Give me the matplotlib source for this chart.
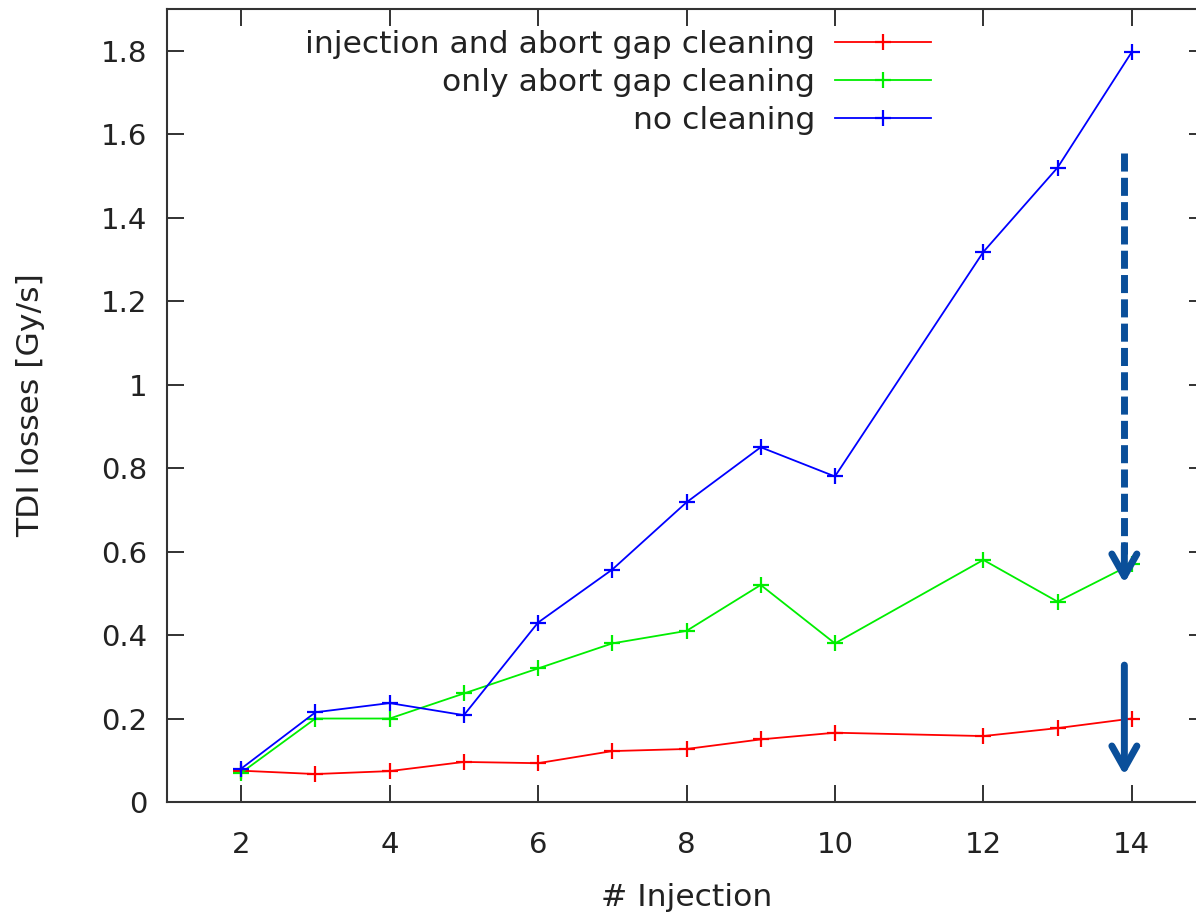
import numpy as np
import matplotlib.pyplot as plt
from matplotlib.ticker import FuncFormatter

# data
injection = [2, 3, 4, 5, 6, 7, 8, 9, 10, 12, 13, 14]
inj_and_abort = [0.075, 0.067, 0.074, 0.096, 0.093, 0.122, 0.127, 0.150, 0.166, 0.158, 0.177, 0.200]
only_abort = [0.07, 0.20, 0.20, 0.26, 0.32, 0.38, 0.41, 0.52, 0.38, 0.58, 0.48, 0.57]
no_cleaning = [0.08, 0.215, 0.237, 0.208, 0.43, 0.557, 0.718, 0.85, 0.78, 1.318, 1.52, 1.797]

labels = ["injection and abort gap cleaning", "only abort gap cleaning", "no cleaning"]
colors = ["#ff0000", "#00ee00", "#0000ff"]

arrow_x = 13.9
dashed_arrow = (1.556, 0.524)
solid_arrow = (0.328, 0.064)
arrow_color = "#0a4f9a"

plt.rcParams['font.family'] = ['DejaVu Sans']
fig = plt.figure(figsize=(11.96, 9.15), dpi=100)
ax = fig.add_axes([167 / 1196, 113 / 915, (1206 - 167) / 1196, (802 - 9) / 915])

for ys, lab, c in zip([inj_and_abort, only_abort, no_cleaning], labels, colors):
    ax.plot(injection, ys, color=c, lw=1.3, marker="+", markersize=11,
            markeredgewidth=1.6, label=lab)

head = "->,head_length=1.6,head_width=0.9"
# dashed arrow
ax.plot([arrow_x, arrow_x], [dashed_arrow[0], dashed_arrow[1] + 0.07], color=arrow_color,
        lw=5, linestyle=(0, (2.6, 0.9)), solid_capstyle="butt", dash_capstyle="butt")
ax.annotate("", xy=(arrow_x, dashed_arrow[1]), xytext=(arrow_x, dashed_arrow[1] + 0.09),
            arrowprops=dict(arrowstyle=head, color=arrow_color, lw=5, shrinkA=0, shrinkB=0))
# solid arrow
ax.annotate("", xy=(arrow_x, solid_arrow[1]), xytext=(arrow_x, solid_arrow[0]),
            arrowprops=dict(arrowstyle=head, color=arrow_color, lw=5, shrinkA=0, shrinkB=0))

ax.set_xlim(1, 15)
ax.set_ylim(0, 1.9)
ax.set_xticks([2, 4, 6, 8, 10, 12, 14])
ax.set_yticks(np.arange(0, 1.81, 0.2))
ax.yaxis.set_major_formatter(FuncFormatter(lambda v, p: "%g" % round(v, 2)))
ax.tick_params(direction="in", length=12, width=1.3, labelsize=21, pad=14,
               top=True, right=True, colors="#222222")
ax.tick_params(axis="x", pad=21)
for s in ax.spines.values():
    s.set_linewidth(1.5)
    s.set_color("#333333")

ax.set_xlabel("# Injection", fontsize=22.6, labelpad=17, color="#222222")
ax.set_ylabel("TDI losses [Gy/s]", fontsize=22.6, labelpad=40, color="#222222")

leg = ax.legend(loc="upper right", bbox_to_anchor=(944 / 1196, 1 - 17 / 915),
                bbox_transform=fig.transFigure, frameon=False, markerfirst=False,
                fontsize=22.6, handlelength=3.06, handletextpad=0.65, labelspacing=0.3,
                borderaxespad=0)
for t in leg.get_texts():
    t.set_color("#222222")

fig.savefig("out.png", dpi=100)
